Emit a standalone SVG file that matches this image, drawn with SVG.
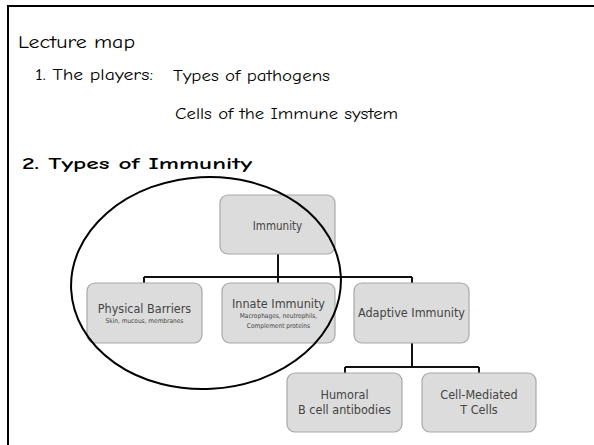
<svg xmlns="http://www.w3.org/2000/svg" width="594" height="445" viewBox="0 0 594 445">
<style>
.t{font-family:"Comic Sans MS","Comic Neue","Liberation Sans",sans-serif;fill:#000}
.box{fill:#dcdcdc;stroke:#a8a8a8;stroke-width:1.2}
.bt{font-family:Tahoma,"DejaVu Sans Condensed","Liberation Sans",sans-serif;fill:#444;text-anchor:middle}
.conn{fill:none;stroke:#111;stroke-width:2}
</style>
<rect width="594" height="445" fill="#fff"/>
<path d="M8,445 V6 H594" fill="none" stroke="#000" stroke-width="2"/>
<text class="t" x="18" y="48" font-size="19" textLength="117" lengthAdjust="spacingAndGlyphs">Lecture map</text>
<text class="t" x="35" y="80" font-size="15" textLength="118" lengthAdjust="spacingAndGlyphs">1. The players:</text>
<text class="t" x="173" y="81" font-size="16" textLength="157" lengthAdjust="spacingAndGlyphs">Types of pathogens</text>
<text class="t" x="175" y="119" font-size="16" textLength="223" lengthAdjust="spacingAndGlyphs">Cells of the Immune system</text>
<text class="t" x="22" y="169" font-size="16" font-weight="bold" textLength="230" lengthAdjust="spacingAndGlyphs">2. Types of Immunity</text>
<g id="connectors">
<path class="conn" d="M278,254 V277 M144,277 H412 M144,277 V283 M278,277 V283 M412,277 V283"/>
<path class="conn" d="M412,343 V367 M345,367 H479 M345,367 V373 M479,367 V373"/>
</g>
<g id="immunity">
<rect class="box" x="220" y="195" width="115" height="59" rx="8"/>
<text class="bt" x="277.5" y="230" font-size="11.5">Immunity</text>
</g>
<g id="physical-barriers">
<rect class="box" x="87" y="283" width="115" height="60" rx="8"/>
<text class="bt" x="144.5" y="313" font-size="12.5">Physical Barriers</text>
<text class="bt" x="144.5" y="323" font-size="6.5">Skin, mucous, membranes</text>
</g>
<g id="innate-immunity">
<rect class="box" x="222" y="283" width="113" height="60" rx="8"/>
<text class="bt" x="278.5" y="308" font-size="12.5">Innate Immunity</text>
<text class="bt" x="278.5" y="318" font-size="6.5">Macrophages, neutrophils,</text>
<text class="bt" x="278.5" y="328" font-size="6.5">Complement proteins</text>
</g>
<g id="adaptive-immunity">
<rect class="box" x="354" y="283" width="115" height="60" rx="8"/>
<text class="bt" x="411.5" y="317" font-size="12.5">Adaptive Immunity</text>
</g>
<g id="humoral">
<rect class="box" x="287" y="373" width="115" height="59" rx="8"/>
<text class="bt" x="344.5" y="399" font-size="12.5">Humoral</text>
<text class="bt" x="344.5" y="414" font-size="12.5">B cell antibodies</text>
</g>
<g id="cell-mediated">
<rect class="box" x="422" y="373" width="114" height="59" rx="8"/>
<text class="bt" x="479" y="399" font-size="12.5">Cell-Mediated</text>
<text class="bt" x="479" y="414" font-size="12.5">T Cells</text>
</g>
<ellipse cx="206" cy="283" rx="135" ry="106" fill="none" stroke="#000" stroke-width="2" transform="rotate(-3 206 283)"/>
</svg>
